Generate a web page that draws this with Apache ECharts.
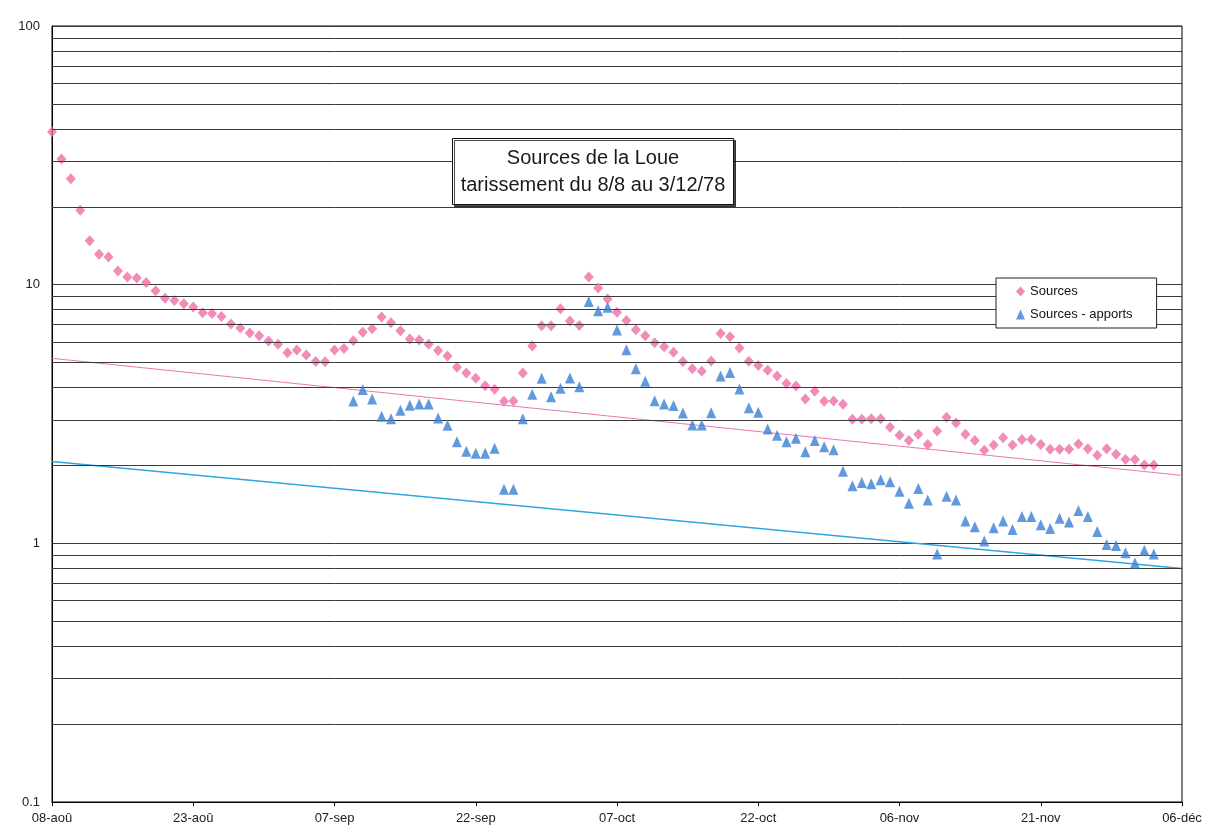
<!DOCTYPE html>
<html>
<head>
<meta charset="utf-8">
<script src="https://cdn.jsdelivr.net/npm/echarts@6/dist/echarts.min.js"></script>
<style>
html,body{margin:0;padding:0;background:#fff;}
#chart{width:1205px;height:836px;}
</style>
</head>
<body>
<div id="chart"></div>
<script>
// Day index 0 = 08 Aug 1978
const xTickLabels = ['08-aoû','23-aoû','07-sep','22-sep','07-oct','22-oct','06-nov','21-nov','06-déc'];
const yTickLabels = {0.1:'0.1', 1:'1', 10:'10', 100:'100'};
const minorGridValues = [0.2,0.3,0.4,0.5,0.6,0.7,0.8,0.9,2,3,4,5,6,7,8,9,20,30,40,50,60,70,80,90];

// "Sources" daily values from 08/08 to 03/12
const sources = [
  39.0,30.6,25.7,19.4,14.8,13.1,12.8,11.3,10.7,10.6,
  10.2,9.47,8.87,8.68,8.44,8.20,7.79,7.73,7.53,7.04,
  6.80,6.50,6.34,6.06,5.89,5.46,5.59,5.35,5.05,5.03,
  5.59,5.66,6.07,6.54,6.75,7.50,7.13,6.63,6.16,6.11,
  5.89,5.57,5.30,4.79,4.56,4.35,4.07,3.94,3.54,3.55,
  4.56,5.79,6.93,6.93,8.07,7.23,6.95,10.7,9.70,8.81,
  7.82,7.27,6.70,6.34,5.96,5.76,5.48,5.05,4.73,4.63,
  5.07,6.47,6.29,5.69,5.06,4.87,4.67,4.44,4.15,4.06,
  3.61,3.87,3.54,3.55,3.45,3.02,3.02,3.03,3.03,2.81,
  2.62,2.50,2.64,2.41,2.72,3.07,2.92,2.64,2.50,2.29,
  2.40,2.56,2.40,2.52,2.52,2.41,2.31,2.31,2.31,2.42,
  2.32,2.19,2.32,2.21,2.11,2.11,2.01,2.01
];

// "Sources - apports" daily values, starting at day 32 (09/09)
const apportsStartDay = 32;
const apports = [
  3.55,3.93,3.61,3.10,3.03,3.27,3.42,3.46,3.46,3.05,
  2.86,2.47,2.27,2.23,2.23,2.33,1.62,1.62,3.03,3.77,
  4.35,3.69,3.98,4.36,4.03,8.60,7.93,8.17,6.68,5.60,
  4.73,4.23,3.56,3.46,3.41,3.19,2.87,2.87,3.20,4.44,
  4.58,3.95,3.34,3.21,2.77,2.62,2.47,2.55,2.26,2.50,
  2.36,2.30,1.90,1.67,1.72,1.70,1.76,1.73,1.59,1.43,
  1.63,1.47,0.91,1.52,1.47,1.22,1.16,1.02,1.15,1.22,
  1.13,1.27,1.27,1.18,1.14,1.25,1.21,1.34,1.27,1.11,
  0.99,0.98,0.92,0.84,0.94,0.91
];

// Exponential trendlines (straight on log axis): values at day 0 and day 120
const trendDays = [0, 120];
const trendSources = [5.19, 1.83];
const trendApports = [2.07, 0.80];

const chart = echarts.init(document.getElementById('chart'));
const FONT = 'Liberation Sans, Arial, sans-serif';

chart.setOption({
  backgroundColor: '#ffffff',
  animation: false,
  textStyle: { fontFamily: FONT },
  grid: { left: 52, right: 23, top: 26, bottom: 34, show: true, borderColor: '#000', borderWidth: 1, backgroundColor: '#fff' },
  xAxis: {
    type: 'value', min: 0, max: 120, interval: 15,
    axisLine: { show: true, lineStyle: { color: '#000', width: 1 } },
    axisTick: { show: true, length: 4, lineStyle: { color: '#000' } },
    axisLabel: { color: '#222', fontSize: 13, margin: 10, fontFamily: FONT,
      formatter: v => xTickLabels[Math.round(v / 15)] || '' },
    splitLine: { show: false }
  },
  yAxis: {
    type: 'log', logBase: 10, min: 0.1, max: 100,
    axisLine: { show: true, lineStyle: { color: '#000', width: 1 } },
    axisTick: { show: false },
    axisLabel: { color: '#222', fontSize: 13, margin: 12, fontFamily: FONT,
      formatter: v => yTickLabels[v] !== undefined ? yTickLabels[v] : (+v.toPrecision(3)).toString() },
    splitLine: { show: true, lineStyle: { color: '#3a3a3a', width: 1 } }
  },
  legend: {
    orient: 'vertical', left: 996, top: 278, z: 20,
    backgroundColor: '#fff', borderColor: '#222', borderWidth: 1,
    padding: [7, 24, 7, 20], itemGap: 10, itemWidth: 9, itemHeight: 10,
    textStyle: { color: '#111', fontSize: 13, fontFamily: FONT },
    data: [
      { name: 'Sources', icon: 'diamond' },
      { name: 'Sources - apports', icon: 'triangle' }
    ]
  },
  graphic: [{
    type: 'group', left: 452, top: 138, z: 100,
    children: [
      { type: 'rect', z: 100, shape: { x: 0, y: 0, width: 281, height: 66 },
        style: { fill: '#fff', stroke: '#111', lineWidth: 1,
          shadowColor: 'rgba(0,0,0,0.7)', shadowOffsetX: 2, shadowOffsetY: 2, shadowBlur: 0 } },
      { type: 'text', z: 101, x: 140.5, y: 33,
        style: { text: 'Sources de la Loue\ntarissement du 8/8 au 3/12/78',
          textAlign: 'center', textVerticalAlign: 'middle', fill: '#1a1a1a',
          font: '20px ' + FONT, lineHeight: 27 } }
    ]
  }],
  series: [
    {
      name: 'trendSources', type: 'line', z: 2, silent: true,
      data: trendDays.map((d, i) => [d, trendSources[i]]),
      symbol: 'none', lineStyle: { color: '#ea78b0', width: 1 },
      markLine: {
        silent: true, symbol: 'none', label: { show: false },
        lineStyle: { color: '#3a3a3a', width: 1, type: 'solid' },
        data: minorGridValues.map(v => ({ yAxis: v }))
      }
    },
    {
      name: 'trendApports', type: 'line', z: 2, silent: true,
      data: trendDays.map((d, i) => [d, trendApports[i]]),
      symbol: 'none', lineStyle: { color: '#2fa6e0', width: 1.5 }
    },
    {
      name: 'Sources', type: 'scatter', z: 4,
      data: sources.map((v, i) => [i, v]),
      symbol: 'diamond', symbolSize: [10, 11],
      itemStyle: { color: '#f06ea6' }
    },
    {
      name: 'Sources - apports', type: 'scatter', z: 5,
      data: apports.map((v, i) => [apportsStartDay + i, v]),
      symbol: 'triangle', symbolSize: [10, 11],
      itemStyle: { color: '#3b7fd4' }
    }
  ]
});
</script>
</body>
</html>
